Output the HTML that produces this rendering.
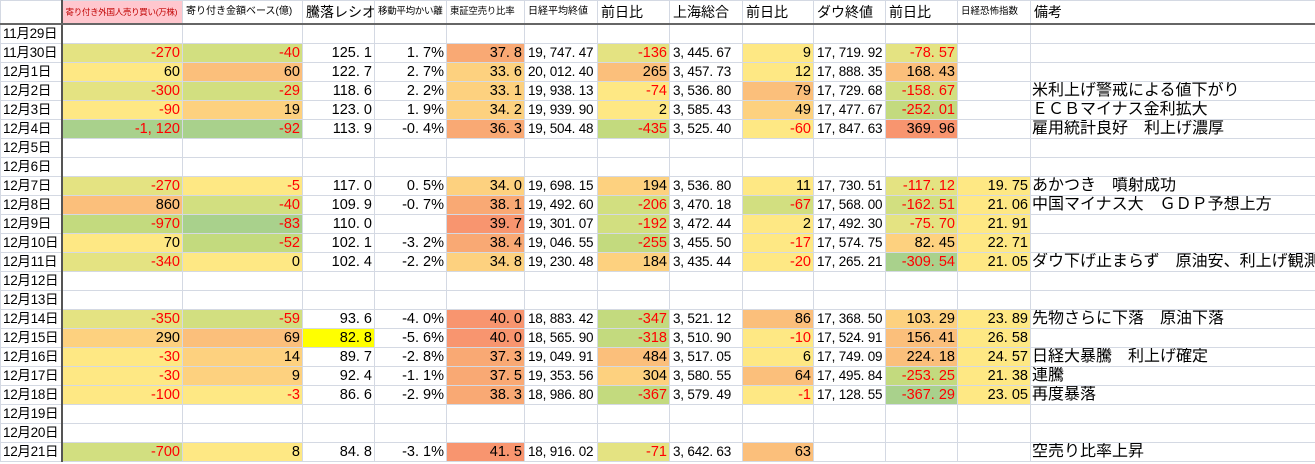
<!DOCTYPE html>
<html><head><meta charset="utf-8">
<style>
body{margin:0;background:#fff;width:1315px;height:464px;overflow:hidden}
table{border-collapse:collapse;table-layout:fixed;width:1315px;font-family:"Liberation Sans","Noto Sans CJK JP",sans-serif;font-size:14.5px;color:#000}
td{border:1px solid #d4d9e3;height:18px;padding:0 2px 0 1px;white-space:nowrap;overflow:hidden;text-align:right;line-height:18px}
td.w{font-size:13.5px;letter-spacing:-0.2px;text-align:left;padding-left:3px}
td.a{text-align:left;border-right:2px solid #555;padding-left:2px;font-size:13.5px;letter-spacing:-0.3px}
td.n{text-align:left;font-size:16px;overflow:hidden}
tr.h td{height:22px;border-bottom:2px solid #666;text-align:left;font-size:10px;line-height:22px;padding-left:3px}
tr.h td.b{font-size:14px}
.r{color:#f00}
.Y{background:#fee884}.YG{background:#e4e382}.G1{background:#d2df80}.G2{background:#c3da7e}.G3{background:#a9d18c}
.O1{background:#fdd17f}.O2{background:#fbbf7b}.S1{background:#f9a974}.S2{background:#f8956f}.YY{background:#ffff00}
</style></head><body>
<table>
<colgroup><col style="width:61px"><col style="width:121px"><col style="width:120px"><col style="width:72px"><col style="width:72px"><col style="width:78px"><col style="width:73px"><col style="width:72px"><col style="width:73px"><col style="width:71px"><col style="width:72px"><col style="width:72px"><col style="width:73px"><col style="width:285px"></colgroup>
<tr class="h"><td class="a"></td><td style="background:#ffc7ce;color:#c00000;font-size:8.5px;letter-spacing:-0.3px">寄り付き外国人売り買い(万株)</td><td>寄り付き金額ベース(億)</td><td class="b">騰落レシオ</td><td style="font-size:9.5px;letter-spacing:-0.3px">移動平均かい離</td><td style="font-size:9.5px;letter-spacing:-0.3px">東証空売り比率</td><td>日経平均終値</td><td class="b">前日比</td><td class="b">上海総合</td><td class="b">前日比</td><td class="b">ダウ終値</td><td class="b">前日比</td><td style="font-size:9.5px">日経恐怖指数</td><td class="b">備考</td></tr>
<tr><td class="a">11月29日</td><td></td><td></td><td></td><td></td><td></td><td class="w"></td><td></td><td class="w"></td><td></td><td class="w"></td><td></td><td></td><td class="n"></td></tr>
<tr><td class="a">11月30日</td><td class="YG r">-270</td><td class="G1 r">-40</td><td>125. 1</td><td>1. 7%</td><td class="S1">37. 8</td><td class="w">19, 747. 47</td><td class="YG r">-136</td><td class="w">3, 445. 67</td><td class="Y">9</td><td class="w">17, 719. 92</td><td class="YG r">-78. 57</td><td></td><td class="n"></td></tr>
<tr><td class="a">12月1日</td><td class="Y">60</td><td class="O2">60</td><td>122. 7</td><td>2. 7%</td><td class="O1">33. 6</td><td class="w">20, 012. 40</td><td class="O2">265</td><td class="w">3, 457. 73</td><td class="Y">12</td><td class="w">17, 888. 35</td><td class="O2">168. 43</td><td></td><td class="n"></td></tr>
<tr><td class="a">12月2日</td><td class="YG r">-300</td><td class="G1 r">-29</td><td>118. 6</td><td>2. 2%</td><td class="O1">33. 1</td><td class="w">19, 938. 13</td><td class="Y r">-74</td><td class="w">3, 536. 80</td><td class="O2">79</td><td class="w">17, 729. 68</td><td class="G1 r">-158. 67</td><td></td><td class="n">米利上げ警戒による値下がり</td></tr>
<tr><td class="a">12月3日</td><td class="Y r">-90</td><td class="O1">19</td><td>123. 0</td><td>1. 9%</td><td class="O1">34. 2</td><td class="w">19, 939. 90</td><td class="Y">2</td><td class="w">3, 585. 43</td><td class="O1">49</td><td class="w">17, 477. 67</td><td class="G2 r">-252. 01</td><td></td><td class="n">ＥＣＢマイナス金利拡大</td></tr>
<tr><td class="a">12月4日</td><td class="G3 r">-1, 120</td><td class="G3 r">-92</td><td>113. 9</td><td>-0. 4%</td><td class="S1">36. 3</td><td class="w">19, 504. 48</td><td class="G2 r">-435</td><td class="w">3, 525. 40</td><td class="Y r">-60</td><td class="w">17, 847. 63</td><td class="S2">369. 96</td><td></td><td class="n">雇用統計良好　利上げ濃厚</td></tr>
<tr><td class="a">12月5日</td><td></td><td></td><td></td><td></td><td></td><td></td><td></td><td></td><td></td><td></td><td></td><td></td><td class="n"></td></tr>
<tr><td class="a">12月6日</td><td></td><td></td><td></td><td></td><td></td><td></td><td></td><td></td><td></td><td></td><td></td><td></td><td class="n"></td></tr>
<tr><td class="a">12月7日</td><td class="YG r">-270</td><td class="Y r">-5</td><td>117. 0</td><td>0. 5%</td><td class="O1">34. 0</td><td class="w">19, 698. 15</td><td class="O1">194</td><td class="w">3, 536. 80</td><td class="Y">11</td><td class="w">17, 730. 51</td><td class="YG r">-117. 12</td><td class="Y">19. 75</td><td class="n">あかつき　噴射成功</td></tr>
<tr><td class="a">12月8日</td><td class="O2">860</td><td class="G1 r">-40</td><td>109. 9</td><td>-0. 7%</td><td class="S1">38. 1</td><td class="w">19, 492. 60</td><td class="G1 r">-206</td><td class="w">3, 470. 18</td><td class="G1 r">-67</td><td class="w">17, 568. 00</td><td class="G1 r">-162. 51</td><td class="Y">21. 06</td><td class="n">中国マイナス大　ＧＤＰ予想上方</td></tr>
<tr><td class="a">12月9日</td><td class="G2 r">-970</td><td class="G3 r">-83</td><td>110. 0</td><td></td><td class="S2">39. 7</td><td class="w">19, 301. 07</td><td class="G1 r">-192</td><td class="w">3, 472. 44</td><td class="Y">2</td><td class="w">17, 492. 30</td><td class="YG r">-75. 70</td><td class="Y">21. 91</td><td class="n"></td></tr>
<tr><td class="a">12月10日</td><td class="Y">70</td><td class="G2 r">-52</td><td>102. 1</td><td>-3. 2%</td><td class="S1">38. 4</td><td class="w">19, 046. 55</td><td class="G2 r">-255</td><td class="w">3, 455. 50</td><td class="Y r">-17</td><td class="w">17, 574. 75</td><td class="O1">82. 45</td><td class="Y">22. 71</td><td class="n"></td></tr>
<tr><td class="a">12月11日</td><td class="YG r">-340</td><td class="Y">0</td><td>102. 4</td><td>-2. 2%</td><td class="O1">34. 8</td><td class="w">19, 230. 48</td><td class="O1">184</td><td class="w">3, 435. 44</td><td class="Y r">-20</td><td class="w">17, 265. 21</td><td class="G3 r">-309. 54</td><td class="Y">21. 05</td><td class="n">ダウ下げ止まらず　原油安、利上げ観測</td></tr>
<tr><td class="a">12月12日</td><td></td><td></td><td></td><td></td><td></td><td></td><td></td><td></td><td></td><td></td><td></td><td></td><td class="n"></td></tr>
<tr><td class="a">12月13日</td><td></td><td></td><td></td><td></td><td></td><td></td><td></td><td></td><td></td><td></td><td></td><td></td><td class="n"></td></tr>
<tr><td class="a">12月14日</td><td class="YG r">-350</td><td class="G1 r">-59</td><td>93. 6</td><td>-4. 0%</td><td class="S2">40. 0</td><td class="w">18, 883. 42</td><td class="G2 r">-347</td><td class="w">3, 521. 12</td><td class="O2">86</td><td class="w">17, 368. 50</td><td class="O1">103. 29</td><td class="Y">23. 89</td><td class="n">先物さらに下落　原油下落</td></tr>
<tr><td class="a">12月15日</td><td class="O1">290</td><td class="O2">69</td><td class="YY">82. 8</td><td>-5. 6%</td><td class="S2">40. 0</td><td class="w">18, 565. 90</td><td class="G2 r">-318</td><td class="w">3, 510. 90</td><td class="Y r">-10</td><td class="w">17, 524. 91</td><td class="O2">156. 41</td><td class="Y">26. 58</td><td class="n"></td></tr>
<tr><td class="a">12月16日</td><td class="Y r">-30</td><td class="O1">14</td><td>89. 7</td><td>-2. 8%</td><td class="S1">37. 3</td><td class="w">19, 049. 91</td><td class="O2">484</td><td class="w">3, 517. 05</td><td class="Y">6</td><td class="w">17, 749. 09</td><td class="O2">224. 18</td><td class="Y">24. 57</td><td class="n">日経大暴騰　利上げ確定</td></tr>
<tr><td class="a">12月17日</td><td class="Y r">-30</td><td class="O1">9</td><td>92. 4</td><td>-1. 1%</td><td class="S1">37. 5</td><td class="w">19, 353. 56</td><td class="O1">304</td><td class="w">3, 580. 55</td><td class="O2">64</td><td class="w">17, 495. 84</td><td class="G2 r">-253. 25</td><td class="Y">21. 38</td><td class="n">連騰</td></tr>
<tr><td class="a">12月18日</td><td class="Y r">-100</td><td class="Y r">-3</td><td>86. 6</td><td>-2. 9%</td><td class="S1">38. 3</td><td class="w">18, 986. 80</td><td class="G2 r">-367</td><td class="w">3, 579. 49</td><td class="Y r">-1</td><td class="w">17, 128. 55</td><td class="G3 r">-367. 29</td><td class="Y">23. 05</td><td class="n">再度暴落</td></tr>
<tr><td class="a">12月19日</td><td></td><td></td><td></td><td></td><td></td><td></td><td></td><td></td><td></td><td></td><td></td><td></td><td class="n"></td></tr>
<tr><td class="a">12月20日</td><td></td><td></td><td></td><td></td><td></td><td></td><td></td><td></td><td></td><td></td><td></td><td></td><td class="n"></td></tr>
<tr><td class="a">12月21日</td><td class="G1 r">-700</td><td class="Y">8</td><td>84. 8</td><td>-3. 1%</td><td class="S2">41. 5</td><td class="w">18, 916. 02</td><td class="YG r">-71</td><td class="w">3, 642. 63</td><td class="O2">63</td><td></td><td></td><td></td><td class="n">空売り比率上昇</td></tr>
</table>
</body></html>
